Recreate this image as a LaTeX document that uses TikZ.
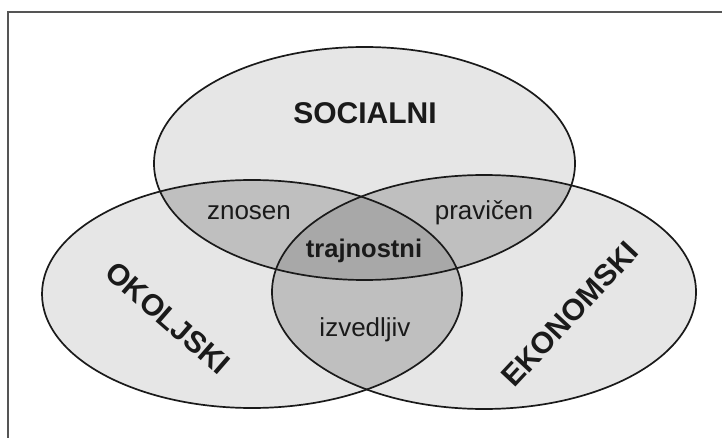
\documentclass[tikz,border=0pt]{standalone}
\usepackage{fontspec}
\setmainfont{Liberation Sans}
\definecolor{onec}{HTML}{E6E6E6}
\definecolor{twoc}{HTML}{BFBFBF}
\definecolor{threec}{HTML}{A8A8A8}
\definecolor{inkc}{HTML}{1A1A1A}
\definecolor{framec}{HTML}{555555}
\def\elT{(364.5,163.5) ellipse [x radius=210.5pt, y radius=116.5pt]}
\def\elL{(252,294) ellipse [x radius=210pt, y radius=114pt]}
\def\elR{(484,292) ellipse [x radius=212pt, y radius=117pt]}
\begin{document}
\begin{tikzpicture}[x=1pt,y=-1pt,
  outline/.style={draw=inkc, line width=1.7pt},
  big/.style={font=\bfseries\fontsize{30}{30}\selectfont, text=inkc, inner sep=0pt},
  small/.style={font=\fontsize{26}{26}\selectfont, text=inkc, inner sep=0pt},
  mid/.style={font=\bfseries\fontsize{25.5}{26}\selectfont, text=inkc, inner sep=0pt}]
\useasboundingbox (0,0) rectangle (722,438);
\fill[white] (0,0) rectangle (722,438);
\draw[framec, line width=1.5pt] (8,438) -- (8,12) -- (722,12);
% single regions
\fill[onec] \elT;
\fill[onec] \elL;
\fill[onec] \elR;
% pairwise
\begin{scope}
  \clip \elT;
  \fill[twoc] \elL;
  \fill[twoc] \elR;
\end{scope}
\begin{scope}
  \clip \elL;
  \fill[twoc] \elR;
\end{scope}
% triple
\begin{scope}
  \clip \elT;
  \clip \elL;
  \fill[threec] \elR;
\end{scope}
% outlines
\draw[outline] \elT;
\draw[outline] \elL;
\draw[outline] \elR;
% labels
\node[big] (soc) at (365,113) {SOCIALNI};
\node[big, rotate=-41] (oko) at (168,318) {OKOLJSKI};
\node[big, rotate=47] (eko) at (570,314) {EKONOMSKI};
\node[small] (zno) at (249,213) {znosen};
\node[small] (pra) at (484,213) {pravičen};
\node[mid] (tra) at (364,251) {trajnostni};
\node[small] (izv) at (365,330) {izvedljiv};
\end{tikzpicture}
\end{document}
